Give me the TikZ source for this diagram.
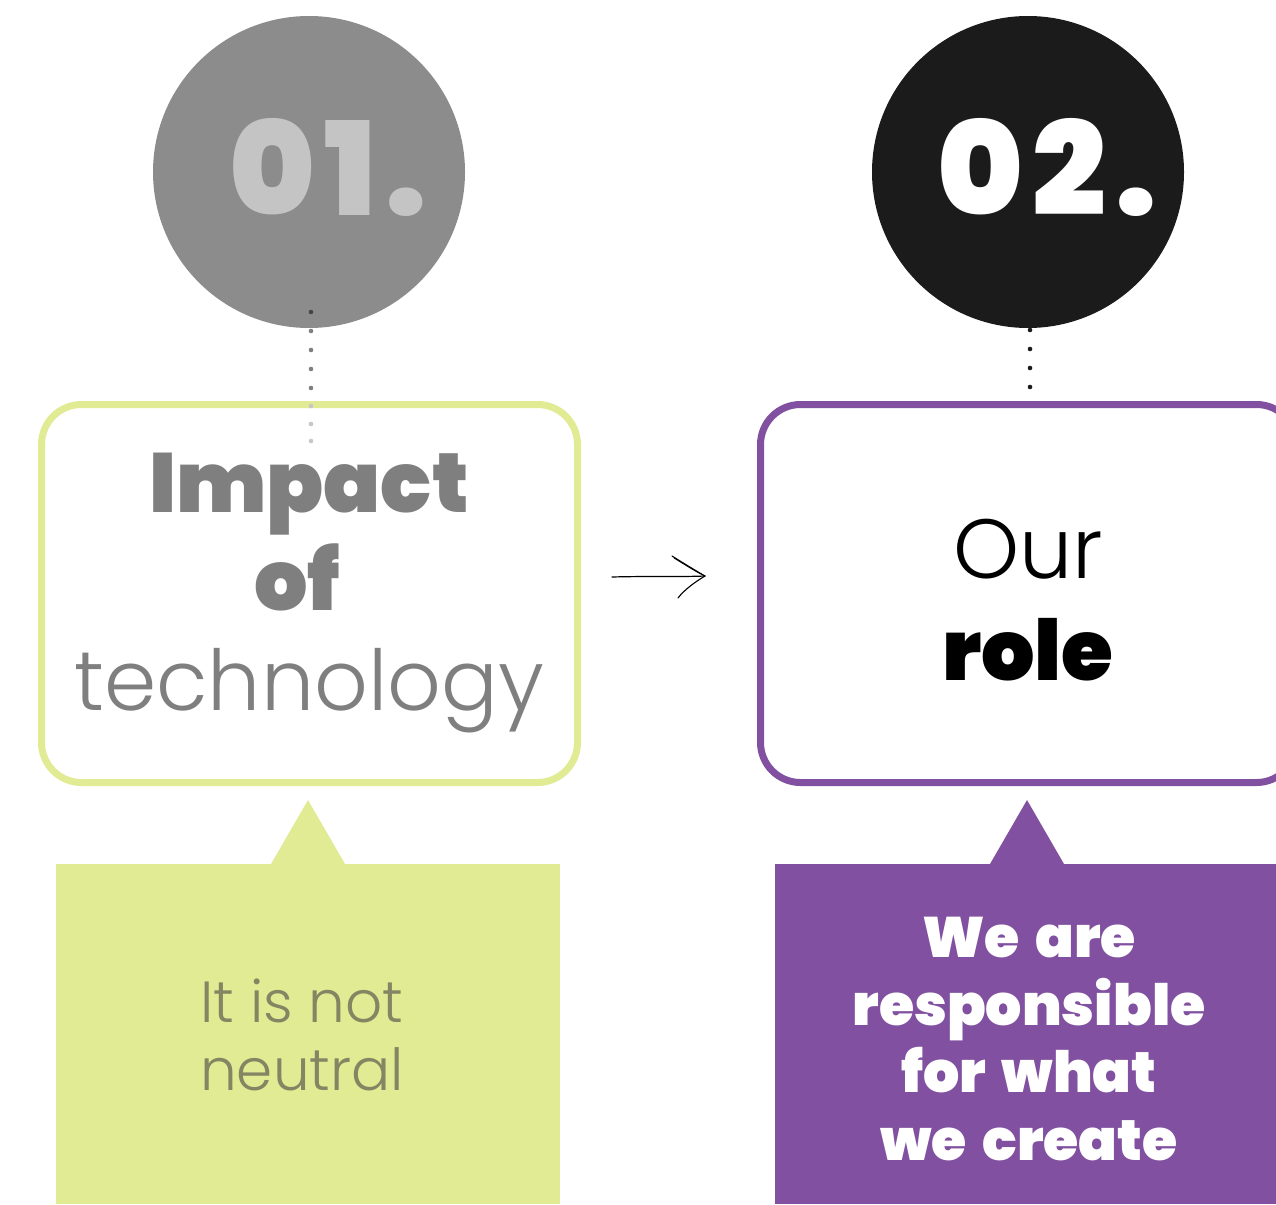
\documentclass[tikz,border=0pt]{standalone}
\usepackage{fontspec}
\setmainfont{Poppins}
\newfontfamily\heavyfont{Poppins Black}[WordSpace=1.6]
\newfontfamily\numfont{Poppins Black}[LetterSpace=7]
\newfontfamily\lightfont{Poppins Light}

\definecolor{limegreen}{HTML}{E1EB94}
\definecolor{rolepurple}{HTML}{8150A0}
\definecolor{midgray}{HTML}{8C8C8C}
\definecolor{palegray}{HTML}{C4C4C4}
\definecolor{nearblack}{HTML}{1B1B1B}
\definecolor{textgray}{HTML}{7F7F7F}
\definecolor{olivegray}{HTML}{848562}

\tikzset{
  numcircle/.style={circle,minimum size=312pt,inner sep=0pt},
  stepcard/.style={rounded corners=40pt,line width=7pt,fill=white,minimum width=536pt,minimum height=378pt},
  numtext/.style={font=\numfont\fontsize{130}{130}\selectfont,anchor=base,inner sep=0pt},
  bigheavy/.style={font=\heavyfont\fontsize{84}{84}\selectfont,anchor=base,inner sep=0pt},
  biglight/.style={font=\lightfont\fontsize{84}{84}\selectfont,anchor=base,inner sep=0pt},
  smallheavy/.style={font=\heavyfont\fontsize{57}{57}\selectfont,anchor=base,inner sep=0pt,white},
  smalllight/.style={font=\lightfont\fontsize{58}{58}\selectfont,anchor=base,inner sep=0pt,olivegray},
}

\begin{document}
\begin{tikzpicture}[x=1pt,y=-1pt]
\useasboundingbox (0,0) rectangle (1276,1204);

% number circles
\node[numcircle,fill=midgray] (circ1) at (309,172) {};
\node[numcircle,fill=nearblack] (circ2) at (1028,172) {};
\node[numtext,palegray] (num1) at (328,215) {01.};
\node[numtext,white] (num2) at (1047,215) {02.};

% dotted links, first part
\foreach \y in {312,331,...,390}
	\fill[black,opacity=0.5] (311,\y) circle (2.3pt);
\foreach \y in {330,349,...,390}
	\fill[nearblack] (1030,\y) circle (2.3pt);

% cards
\node[stepcard,draw=limegreen] (card1) at (309.5,593.5) {};
\node[stepcard,draw=rolepurple] (card2) at (1028.5,593.5) {};

% dotted link, faded part
\foreach \y in {406,424,441}
	\fill[black!22] (311,\y) circle (2.3pt);

\node[bigheavy,textgray] (impact) at (309,512) {Impact};
\node[bigheavy,textgray] (of) at (297,610) {of};
\node[biglight,textgray] (tech) at (309,710) {technology};

\node[biglight,black] (our) at (1028,578) {Our};
\node[bigheavy,black] (role) at (1028,680) {role};

% sketchy arrow
\coordinate (tail) at (612,577);
\coordinate (tip) at (705,576);
\draw[line width=1.2pt,line cap=round] (tail) .. controls (650,576) and (680,577) .. (tip);
\draw[line width=1.1pt,line cap=round] (672,556) .. controls (688,566) and (698,572) .. (tip);
\draw[line width=0.8pt,line cap=round] (674,558) .. controls (690,568) and (700,574) .. (tip);
\draw[line width=1.1pt,line cap=round] (tip) .. controls (695,582) and (684,590) .. (678,598);

% callouts
\fill[limegreen] (56,864) rectangle (560,1204);
\fill[limegreen] (271,864) -- (308,800) -- (345,864) -- cycle;
\fill[rolepurple] (775,864) rectangle (1276,1204);
\fill[rolepurple] (990,864) -- (1027,800) -- (1064,864) -- cycle;

\node[smalllight] (note1a) at (302,1022) {It is not};
\node[smalllight] (note1b) at (302,1090) {neutral};

\node[smallheavy] (note2a) at (1029,957) {We are};
\node[smallheavy] (note2b) at (1029,1025) {responsible};
\node[smallheavy] (note2c) at (1029,1092) {for what};
\node[smallheavy] (note2d) at (1029,1160) {we create};
\end{tikzpicture}
\end{document}
